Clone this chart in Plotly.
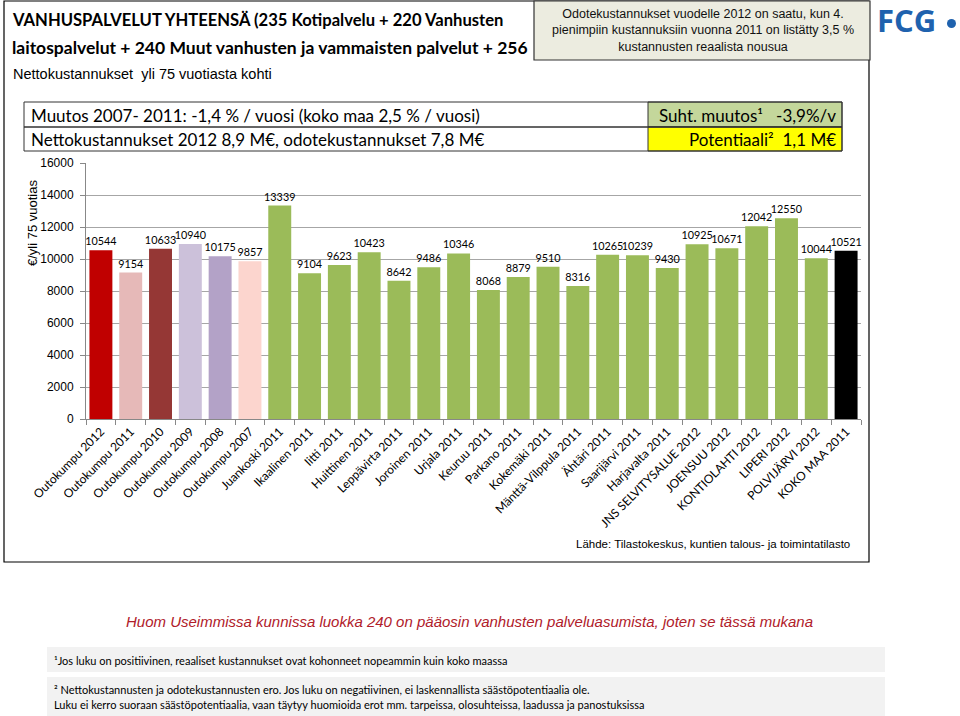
import plotly.graph_objects as go

categories = ["Outokumpu 2012", "Outokumpu 2011", "Outokumpu 2010", "Outokumpu 2009",
              "Outokumpu 2008", "Outokumpu 2007", "Juankoski 2011", "Ikaalinen 2011",
              "Iitti 2011", "Huittinen 2011", "Leppävirta 2011", "Joroinen 2011",
              "Urjala 2011", "Keuruu 2011", "Parkano 2011", "Kokemäki 2011",
              "Mänttä-Vilppula 2011", "Ähtäri 2011", "Saarijärvi 2011", "Harjavalta 2011",
              "JNS SELVITYSALUE 2012", "JOENSUU 2012", "KONTIOLAHTI 2012", "LIPERI 2012",
              "POLVIJÄRVI 2012", "KOKO MAA 2011"]
values = [10544, 9154, 10633, 10940, 10175, 9857, 13339, 9104, 9623, 10423, 8642, 9486,
          10346, 8068, 8879, 9510, 8316, 10265, 10239, 9430, 10925, 10671, 12042, 12550,
          10044, 10521]
bar_colors = ["#C00000", "#E6B9B8", "#953735", "#CCC1DA", "#B3A2C7", "#FCD5CE"] + \
             ["#9BBB59"] * 19 + ["#000000"]
y_ticks = [0, 2000, 4000, 6000, 8000, 10000, 12000, 14000, 16000]
y_tick_text = [str(v) for v in y_ticks]

W, H = 960, 716
L, R, T, B = 86, 861, 163, 419
FONT = "Lato"


def px(x):
    return (x - L) / (R - L)


def py(y):
    return (B - y) / (B - T)


fig = go.Figure(go.Bar(
    x=categories, y=values, marker=dict(color=bar_colors, line=dict(width=0)),
    text=[str(v) for v in values], textposition="outside", constraintext="none",
    textfont=dict(family=FONT, size=10.8, color="#000000"), cliponaxis=False,
))

shapes = []
ann = []


def rect(x0, y0, x1, y1, fill="rgba(0,0,0,0)", line="#000000", lw=1):
    shapes.append(dict(type="rect", xref="paper", yref="paper", x0=px(x0), x1=px(x1),
                       y0=py(y1), y1=py(y0), fillcolor=fill,
                       line=dict(color=line, width=lw), layer="below"))


def text(x, y, s, size=12, color="#000000", xanchor="left", family=FONT, yanchor="middle", **kw):
    ann.append(dict(xref="paper", yref="paper", x=px(x), y=py(y), text=s, showarrow=False,
                    xanchor=xanchor, yanchor=yanchor,
                    font=dict(family=family, size=size, color=color), **kw))


# outer frame
rect(4, 1, 869, 562, line="#000000", lw=1.2)
# note box top right
rect(534, 1, 870, 60, fill="#ECECE0", line="#333333", lw=1.2)
text(703, 30, "Odotekustannukset vuodelle 2012 on saatu, kun 4.<br>pienimpiin kustannuksiin vuonna 2011 on listätty 3,5 %<br>kustannusten reaalista nousua",
     size=12.5, color="#111111", xanchor="center", family="Liberation Sans", align="center")
# title
text(10, 20, "<b>VANHUSPALVELUT YHTEENSÄ (235 Kotipalvelu + 220 Vanhusten</b>", size=16.6)
text(10, 47, "<b>laitospalvelut + 240 Muut vanhusten ja vammaisten palvelut + 256</b>", size=17.5)
text(11, 74, "Nettokustannukset  yli 75 vuotiasta kohti", size=14.5, family="Liberation Sans")
# table
rect(648, 102, 842, 127, fill="#C4D79B", line="#333333")
rect(648, 127, 842, 151, fill="#FFFF00", line="#333333")
rect(24, 102, 842, 127, line="#333333")
rect(24, 127, 842, 151, line="#333333")
text(29, 115, "Muutos 2007- 2011: -1,4 % / vuosi (koko maa 2,5 % / vuosi)", size=17)
text(29, 139, "Nettokustannukset 2012 8,9 M€, odotekustannukset 7,8 M€", size=17)
text(838, 115, "Suht. muutos¹   -3,9%/v", size=17, xanchor="right")
text(838, 139, "Potentiaali²  1,1 M€", size=17, xanchor="right")
# FCG logo
text(875, 20, "<b>FCG</b>", size=31, color="#1F62AE", family="Open Sans")
shapes.append(dict(type="circle", xref="paper", yref="paper", x0=px(947), x1=px(956),
                   y0=py(28), y1=py(19), fillcolor="#1F62AE", line=dict(width=0)))
# y axis title
ann.append(dict(xref="paper", yref="paper", x=px(32), y=py(223), text="€/yli 75 vuotias",
                showarrow=False, textangle=-90, xanchor="center", yanchor="middle",
                font=dict(family="Liberation Sans", size=13, color="#000000")))
# source
text(852, 544, "Lähde: Tilastokeskus, kuntien talous- ja toimintatilasto", size=11.5,
     xanchor="right", family="Liberation Sans")
# footnotes
text(469, 621, "<i>Huom Useimmissa kunnissa luokka 240 on pääosin vanhusten palveluasumista, joten se tässä mukana</i>",
     size=15, color="#B0202A", xanchor="center", family="Liberation Sans")
rect(47, 647, 885, 672, fill="#F2F2F2", line="rgba(0,0,0,0)", lw=0)
rect(47, 677, 885, 716, fill="#F2F2F2", line="rgba(0,0,0,0)", lw=0)
text(52, 660, "¹Jos luku on positiivinen, reaaliset kustannukset ovat kohonneet nopeammin kuin koko maassa",
     size=11)
text(52, 689, "² Nettokustannusten ja odotekustannusten ero. Jos luku on negatiivinen, ei laskennallista säästöpotentiaalia ole.",
     size=11)
text(52, 704, "Luku ei kerro suoraan säästöpotentiaalia, vaan täytyy huomioida erot mm. tarpeissa, olosuhteissa, laadussa ja panostuksissa",
     size=11)

fig.update_layout(
    width=W, height=H, margin=dict(l=L, r=W - R, t=T, b=H - B, autoexpand=False),
    paper_bgcolor="#FFFFFF", plot_bgcolor="#FFFFFF", showlegend=False, bargap=0.23,
    font=dict(family=FONT, size=12, color="#000000"),
    shapes=shapes, annotations=ann,
    xaxis=dict(tickangle=-45, showline=True, linecolor="#888888", linewidth=1,
               ticks="outside", tickson="boundaries", ticklen=5, tickcolor="#888888",
               tickfont=dict(family=FONT, size=12), showgrid=False),
    yaxis=dict(range=[0, 16000], tickvals=y_ticks, ticktext=y_tick_text, showgrid=True,
               gridcolor="#A6A6A6", gridwidth=1, showline=True, linecolor="#888888",
               ticks="outside", ticklen=5, tickcolor="#888888", ticklabelstandoff=4,
               tickfont=dict(family="Liberation Sans", size=12), zeroline=False),
)

fig.write_html("out.html", config={"displayModeBar": False},
               post_script="document.body.style.margin='0';")
